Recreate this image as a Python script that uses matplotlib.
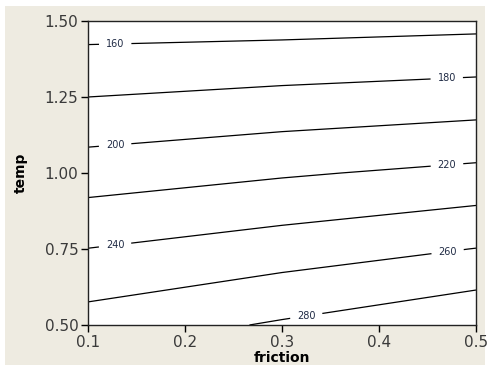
import matplotlib.pyplot as plt
import matplotlib.patches as mpatches
import numpy as np

# values: response on a coarse grid
friction = [0.1, 0.3, 0.5]
temp = [0.5, 0.75, 1.0, 1.25, 1.5]
# rows = temp, cols = friction
z_rows = [
    [268.6, 282.3, 296.7],
    [240.3, 250.0, 260.4],
    [210.3, 217.9, 224.8],
    [180.0, 185.0, 189.3],
    [151.0, 151.7, 154.0],
]
levels = [160, 180, 200, 220, 240, 260, 280]
label_spots = [(0.128, 1.43), (0.47, 1.30), (0.128, 1.09), (0.47, 1.03),
               (0.128, 0.76), (0.47, 0.76), (0.325, 0.53)]

fig = plt.figure(figsize=(4.93, 3.67), dpi=100, facecolor="white")
bg = mpatches.Rectangle((5 / 493, 2 / 367), 480 / 493, 359 / 367,
                        transform=fig.transFigure, facecolor="#eeebe1",
                        edgecolor="none", zorder=-10)
fig.add_artist(bg)
ax = fig.add_axes([88 / 493, 42 / 367, 388 / 493, 304 / 367])
ax.set_facecolor("white")

X, Y = np.meshgrid(friction, temp)
Z = np.array(z_rows)
cs = ax.contour(X, Y, Z, levels=levels, colors="black", linewidths=0.9)
labels = ax.clabel(cs, fmt="%d", fontsize=7, colors="#1f2a44", inline=True,
                   inline_spacing=7, manual=label_spots)
for t in labels:
    t.set_rotation(0)

ax.set_xlim(0.1, 0.5)
ax.set_ylim(0.5, 1.5)
ax.set_xticks([0.1, 0.2, 0.3, 0.4, 0.5])
ax.set_yticks([0.5, 0.75, 1.0, 1.25, 1.5])
ax.set_yticklabels(["0.50", "0.75", "1.00", "1.25", "1.50"])
ax.tick_params(direction="out", length=5, width=1, labelsize=11,
               labelcolor="#3a3a3a", pad=2)
for s in ax.spines.values():
    s.set_linewidth(1.0)
    s.set_color("#222222")

ax.set_xlabel("friction", fontsize=10, fontweight="bold", labelpad=1)
ax.set_ylabel("temp", fontsize=10, fontweight="bold", labelpad=12)

fig.savefig("out.png", dpi=100, facecolor=fig.get_facecolor())
